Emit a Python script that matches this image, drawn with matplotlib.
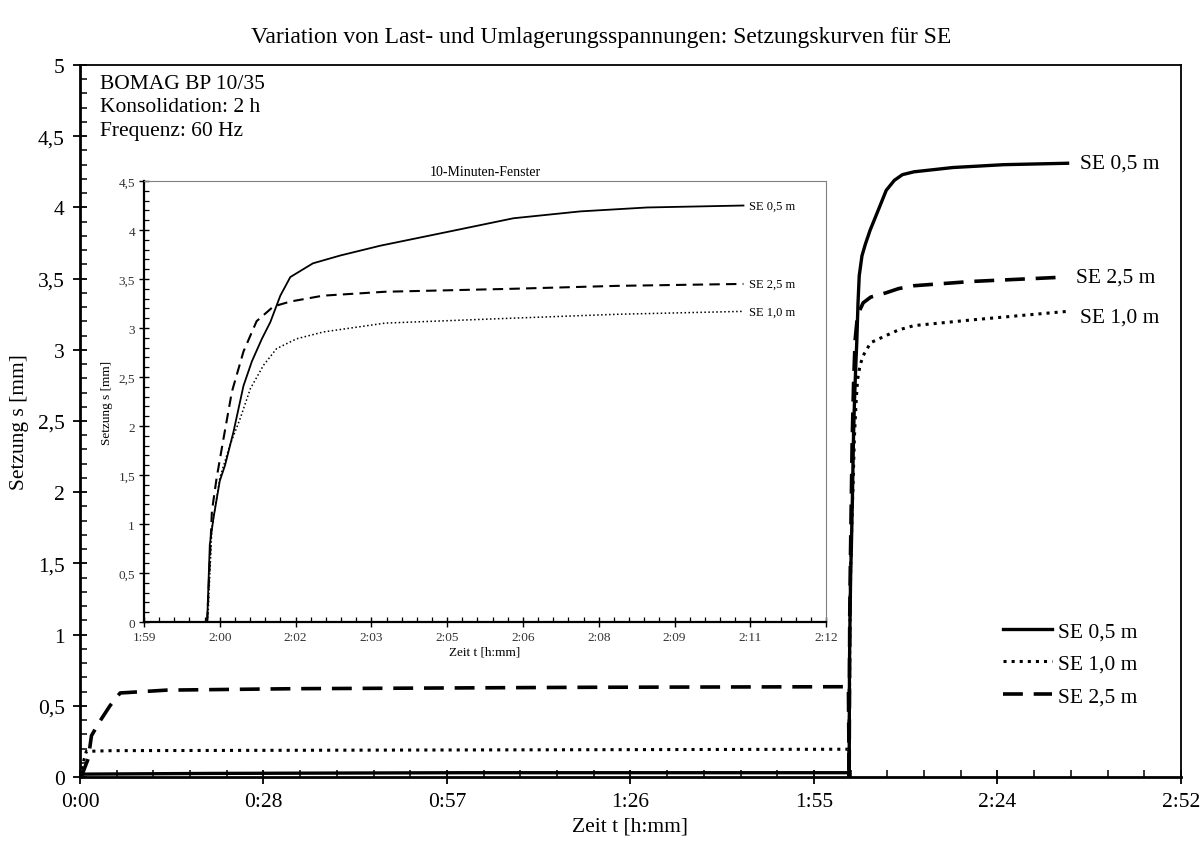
import matplotlib
matplotlib.use("Agg")
import matplotlib.pyplot as plt
from matplotlib.ticker import MultipleLocator, FuncFormatter

plt.rcParams['font.family'] = ['Liberation Serif', 'DejaVu Serif']

# Zeit in Minuten, Setzung in mm
t_05 = [0, 0.3, 20, 60, 100, 120.6, 120.72, 120.77, 120.84, 120.96, 121.06, 121.22, 121.41,
        121.57, 121.76, 121.92, 122.11, 122.30, 122.73, 123.25, 124.01, 125.28, 126.54,
        127.81, 129.08, 130.91, 137.0, 145.0, 155.0]
s_05 = [0, 0.02, 0.025, 0.03, 0.03, 0.03, 0.0, 0.79, 1.06, 1.44, 1.60, 1.94, 2.41,
        2.66, 2.89, 3.06, 3.33, 3.52, 3.66, 3.74, 3.84, 3.98, 4.12,
        4.19, 4.23, 4.25, 4.28, 4.30, 4.31]

t_10 = [0, 0.5, 1.0, 5, 60, 120.6, 120.72, 120.74, 120.81, 120.96, 121.15, 121.35, 121.54,
        121.79, 122.04, 122.42, 122.93, 124.1, 126.5, 128.5, 130.91, 140.0, 155.0]
s_10 = [0, 0.1, 0.18, 0.185, 0.19, 0.195, 0.0, 0.11, 0.96, 1.47, 1.80, 2.08, 2.38,
        2.62, 2.79, 2.89, 2.96, 3.05, 3.10, 3.14, 3.17, 3.21, 3.27]

t_25 = [0, 0.27, 1.3, 1.8, 3.1, 4.7, 6.3, 13.6, 33.5, 80, 120.6, 120.72, 120.77, 120.81,
        120.90, 121.03, 121.19, 121.41, 121.66, 121.98, 122.30, 122.92, 124.1, 126.5,
        128.5, 130.91, 140.0, 154.3]
s_25 = [0, 0.01, 0.13, 0.29, 0.39, 0.5, 0.59, 0.61, 0.62, 0.63, 0.634, 0.0, 0.62, 1.13,
        1.47, 1.87, 2.35, 2.76, 3.07, 3.22, 3.27, 3.33, 3.37, 3.40,
        3.43, 3.45, 3.48, 3.51]

labels = ["SE 0,5 m", "SE 1,0 m", "SE 2,5 m"]
info_text = "BOMAG BP 10/35\nKonsolidation: 2 h\nFrequenz: 60 Hz"
fenster_ende = 130.91


def hmm(x, pos):
    m = int(x + 1e-6)
    return "%d:%02d" % (m // 60, m % 60)


def komma(y, pos):
    return ("%g" % round(y, 2)).replace(".", ",")


def fenster(t, s):
    # nur der zweite Abschnitt (ab Neustart bei 0) bis zum Ende des Fensters
    i0 = s.index(0.0, 1)
    i1 = t.index(fenster_ende) + 1
    return t[i0:i1], s[i0:i1]


fig = plt.figure(figsize=(12.03, 8.45), dpi=100)
ax = fig.add_axes([0.0665, 0.0793, 0.9152, 0.8426])

ax.plot(t_05, s_05, color="black", lw=2.4, label=labels[0])
ax.plot(t_10, s_10, color="black", lw=2.2, ls=":", label=labels[1])
ax.plot(t_25, s_25, color="black", lw=2.6, ls=(0, (5.5, 3)), label=labels[2])

ax.set_xlim(0, 172.8)
ax.set_ylim(0, 5)
ax.xaxis.set_major_locator(MultipleLocator(28.8))
ax.xaxis.set_minor_locator(MultipleLocator(5.76))
ax.yaxis.set_major_locator(MultipleLocator(0.5))
ax.yaxis.set_minor_locator(MultipleLocator(0.1))
ax.xaxis.set_major_formatter(FuncFormatter(hmm))
ax.yaxis.set_major_formatter(FuncFormatter(komma))
ax.tick_params(which="major", direction="inout", length=10, width=1.3, labelsize=15.5, pad=6)
ax.tick_params(which="minor", direction="in", length=5, width=1.1)
for sp in ax.spines.values():
    sp.set_linewidth(1.3)
ax.spines["left"].set_linewidth(2)
ax.spines["bottom"].set_linewidth(2)

ax.set_xlabel("Zeit t [h:mm]", fontsize=15.5, labelpad=4)
ax.set_ylabel("Setzung s [mm]", fontsize=15.5, labelpad=6)
fig.suptitle("Variation von Last- und Umlagerungsspannungen: Setzungskurven für SE",
             fontsize=17, y=0.968)

ax.text(0.018, 0.988, info_text, transform=ax.transAxes, fontsize=15.5,
        va="top", ha="left", linespacing=1.35)

for t, s, lab, dy in [(t_05, s_05, labels[0], 0), (t_10, s_10, labels[1], -4),
                      (t_25, s_25, labels[2], 0)]:
    ax.annotate(lab, xy=(t[-1], s[-1]), xytext=(9, dy), textcoords="offset points",
                fontsize=15.5, va="center", ha="left")

leg = ax.legend(loc="center right", bbox_to_anchor=(0.97, 0.159), frameon=False,
                fontsize=15.5, handlelength=2.3, handletextpad=0.25, labelspacing=0.58,
                borderpad=0)

# Einsatzdiagramm: 10-Minuten-Fenster
ins = fig.add_axes([0.1197, 0.2627, 0.567, 0.5219])
ins.set_facecolor("white")
tw, sw = fenster(t_05, s_05)
ins.plot(tw, sw, color="black", lw=1.3)
tw, sw = fenster(t_10, s_10)
ins.plot(tw, sw, color="black", lw=1.1, ls=(0, (1, 1.6)))
tw, sw = fenster(t_25, s_25)
ins.plot(tw, sw, color="black", lw=1.5, ls=(0, (5, 3)))
ins.set_xlim(119.52, 132.48)
ins.set_ylim(0, 4.5)
ins.xaxis.set_major_locator(MultipleLocator(1.44))
ins.xaxis.set_minor_locator(MultipleLocator(0.288))
ins.yaxis.set_major_locator(MultipleLocator(0.5))
ins.yaxis.set_minor_locator(MultipleLocator(0.1))
ins.xaxis.set_major_formatter(FuncFormatter(hmm))
ins.yaxis.set_major_formatter(FuncFormatter(komma))
ins.tick_params(which="major", direction="inout", length=7, width=1, labelsize=9.5, pad=3,
                labelcolor="#333333")
ins.tick_params(which="minor", direction="in", length=3.5, width=0.9)
ins.spines["left"].set_linewidth(1.6)
ins.spines["bottom"].set_linewidth(1.6)
ins.spines["top"].set_color("#808080")
ins.spines["right"].set_color("#808080")
ins.set_title("10-Minuten-Fenster", fontsize=10, pad=4)
ins.set_xlabel("Zeit t [h:mm]", fontsize=9.5, labelpad=2)
ins.set_ylabel("Setzung s [mm]", fontsize=9.5, labelpad=4)

for t, s, lab in [(t_05, s_05, labels[0]), (t_10, s_10, labels[1]), (t_25, s_25, labels[2])]:
    i = t.index(fenster_ende)
    ins.annotate(lab, xy=(t[i], s[i]), xytext=(4, 0),
                 textcoords="offset points", fontsize=9, va="center", ha="left")

fig.savefig("out.png", dpi=100)
